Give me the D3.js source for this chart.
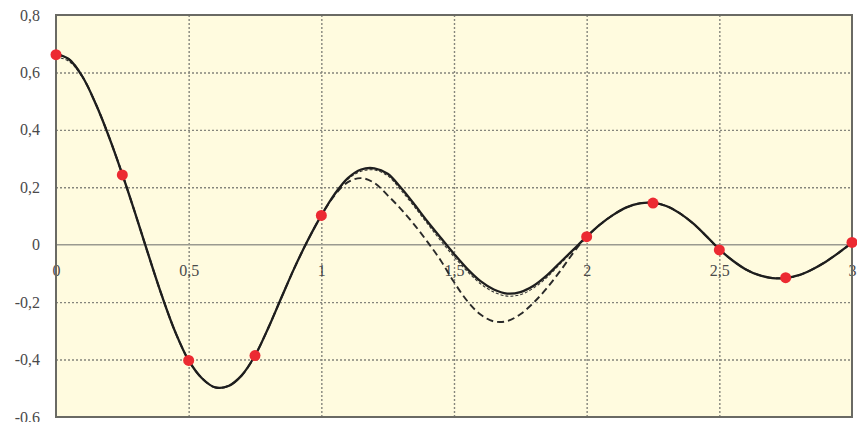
<!DOCTYPE html>
<html><head><meta charset="utf-8">
<script src="https://cdn.jsdelivr.net/npm/d3@7"></script>
<style>
html,body{margin:0;padding:0;background:#fff;}
svg{display:block;}
.tick text{font-family:"Liberation Serif","DejaVu Serif",serif;font-size:16px;fill:#4a4a4a;}
</style></head><body>
<svg id="c" width="857" height="422"></svg>
<script>
// ---- data ----
const xTicks = [0, 0.5, 1, 1.5, 2, 2.5, 3];
const xTickLabels = ["0", "0,5", "1", "1,5", "2", "2,5", "3"];
const yTicks = [0.8, 0.6, 0.4, 0.2, 0, -0.2, -0.4, -0.6];
const yTickLabels = ["0,8", "0,6", "0,4", "0,2", "0", "-0,2", "-0,4", "-0,6"];

const xs = [0,0.05,0.1,0.15,0.2,0.25,0.3,0.35,0.4,0.45,0.5,0.55,0.6,0.65,0.7,0.75,0.8,0.85,0.9,0.95,
  1,1.05,1.1,1.15,1.2,1.25,1.3,1.35,1.4,1.45,1.5,1.55,1.6,1.65,1.7,1.75,1.8,1.85,1.9,1.95,
  2,2.05,2.1,2.15,2.2,2.25,2.3,2.35,2.4,2.45,2.5,2.55,2.6,2.65,2.7,2.75,2.8,2.85,2.9,2.95,3];

const solid = [0.665,0.645,0.585,0.49,0.375,0.245,0.105,-0.04,-0.18,-0.305,-0.403,-0.465,-0.497,-0.492,-0.455,-0.386,-0.29,-0.183,-0.078,0.017,
  0.102,0.176,0.232,0.262,0.266,0.247,0.198,0.141,0.081,0.024,-0.032,-0.084,-0.127,-0.156,-0.17,-0.165,-0.143,-0.107,-0.062,-0.017,
  0.028,0.07,0.104,0.13,0.144,0.146,0.135,0.11,0.075,0.031,-0.016,-0.055,-0.086,-0.106,-0.116,-0.116,-0.106,-0.086,-0.06,-0.028,0.007];

const thinDashed = [0.655,0.638,0.583,0.492,0.377,0.247,0.106,-0.04,-0.18,-0.305,-0.403,-0.465,-0.497,-0.492,-0.455,-0.386,-0.29,-0.183,-0.078,0.017,
  0.102,0.174,0.228,0.256,0.26,0.24,0.19,0.133,0.073,0.014,-0.042,-0.093,-0.136,-0.165,-0.179,-0.174,-0.151,-0.114,-0.067,-0.02,
  0.028,0.07,0.104,0.13,0.144,0.146,0.135,0.11,0.075,0.031,-0.016,-0.055,-0.086,-0.106,-0.116,-0.116,-0.106,-0.086,-0.06,-0.028,0.007];

const thickDashed = [0.665,0.645,0.585,0.49,0.375,0.245,0.105,-0.04,-0.18,-0.305,-0.403,-0.465,-0.497,-0.492,-0.455,-0.386,-0.29,-0.183,-0.078,0.017,
  0.102,0.172,0.218,0.232,0.215,0.172,0.124,0.07,0.01,-0.055,-0.13,-0.196,-0.243,-0.267,-0.266,-0.242,-0.202,-0.151,-0.092,-0.028,
  0.028,0.07,0.104,0.13,0.144,0.146,0.135,0.11,0.075,0.031,-0.016,-0.055,-0.086,-0.106,-0.116,-0.116,-0.106,-0.086,-0.06,-0.028,0.007];

const dotX = [0, 0.25, 0.5, 0.75, 1, 2, 2.25, 2.5, 2.75, 3];
const dotY = [0.662, 0.243, -0.403, -0.386, 0.102, 0.028, 0.145, -0.018, -0.115, 0.008];

// ---- chart ----
const svg = d3.select("#c");
const L = 56, R = 852, T = 15, B = 417;
const x = d3.scaleLinear().domain([0, 3]).range([L, R]);
const y = d3.scaleLinear().domain([-0.6, 0.8]).range([B, T]);

svg.append("rect").attr("x", L).attr("y", T).attr("width", R - L).attr("height", B - T).attr("fill", "#fffbdf");

// grid
const gx = svg.append("g").attr("transform", `translate(0,${B})`)
  .call(d3.axisBottom(x).tickValues(xTicks.slice(1, -1)).tickSize(-(B - T)).tickFormat(""));
gx.select(".domain").remove();
gx.selectAll("line").attr("stroke", "#85857c").attr("stroke-width", 1.4).attr("stroke-dasharray", "2,2");
const gy = svg.append("g").attr("transform", `translate(${L},0)`)
  .call(d3.axisLeft(y).tickValues(yTicks.filter(v => v !== 0 && v !== 0.8 && v !== -0.6)).tickSize(-(R - L)).tickFormat(""));
gy.select(".domain").remove();
gy.selectAll("line").attr("stroke", "#85857c").attr("stroke-width", 1.4).attr("stroke-dasharray", "2,2");

// zero line
svg.append("line").attr("x1", L).attr("x2", R).attr("y1", y(0)).attr("y2", y(0))
  .attr("stroke", "#9a9a90").attr("stroke-width", 1.6);

// axis labels
const ay = svg.append("g").attr("transform", `translate(${L - 16},0)`)
  .call(d3.axisLeft(y).tickValues(yTicks).tickSize(0).tickPadding(0)
    .tickFormat((d, i) => yTickLabels[i]));
ay.select(".domain").remove();

const ax = svg.append("g").attr("transform", `translate(0,${y(0) + 20})`)
  .call(d3.axisBottom(x).tickValues(xTicks).tickSize(0).tickPadding(0)
    .tickFormat((d, i) => xTickLabels[i]));
ax.select(".domain").remove();

// curves
const mk = arr => d3.line().x((d, i) => x(xs[i])).y(d => y(d)).curve(d3.curveCatmullRom)(arr);
svg.append("path").attr("d", mk(thickDashed)).attr("fill", "none").attr("stroke", "#2a2a2a")
  .attr("stroke-width", 1.9).attr("stroke-dasharray", "7,4");
svg.append("path").attr("d", mk(thinDashed)).attr("fill", "none").attr("stroke", "#333")
  .attr("stroke-width", 1.1).attr("stroke-dasharray", "3,2");
svg.append("path").attr("d", mk(solid)).attr("fill", "none").attr("stroke", "#1e1e1e")
  .attr("stroke-width", 2.3);

// border
svg.append("rect").attr("x", L).attr("y", T).attr("width", R - L).attr("height", B - T)
  .attr("fill", "none").attr("stroke", "#6a6a64").attr("stroke-width", 2);

// dots
svg.append("g").selectAll("circle").data(dotX).join("circle")
  .attr("cx", d => x(d)).attr("cy", (d, i) => y(dotY[i])).attr("r", 5.5)
  .attr("fill", "#ec2a32");
</script>
</body></html>
